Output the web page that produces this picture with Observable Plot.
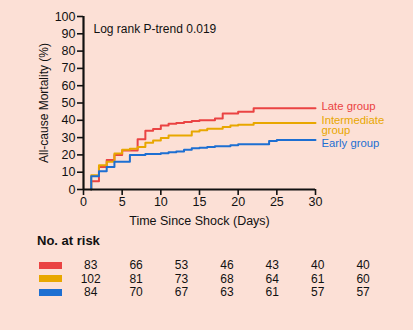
<!DOCTYPE html>
<html><head><meta charset="utf-8">
<script src="https://cdn.jsdelivr.net/npm/d3@7"></script>
<script src="https://cdn.jsdelivr.net/npm/@observablehq/plot@0.6"></script>
<style>
html,body{margin:0;padding:0;background:#fce0d6;}
#wrap{position:relative;width:413px;height:330px;overflow:hidden;font-family:"Liberation Sans",Arial,sans-serif;color:#111;background:#fce0d6;}
#chart{position:absolute;left:0;top:0;}
.abs{position:absolute;white-space:nowrap;}
</style></head>
<body><div id="wrap"><div id="chart"></div><div id="risk"></div></div>
<script>
// ---- data ----
const groups = ["Late group", "Intermediate group", "Early group"];
const groupLabels = ["Late group", "Intermediate\ngroup", "Early group"];
const groupColors = ["#ea4343", "#e8a700", "#1d6fd2"];

const lateDays =      [1, 1,   2,  3,  4,  5,    7,  8,  9, 10, 11, 12,   13, 14,   15, 17, 18, 20, 22, 30];
const lateMort =      [0, 4.8, 13, 17, 20, 22.5, 29, 34, 35, 37, 38, 38.5, 39, 39.6, 40, 41, 44, 45, 47, 47];

const interDays =     [1, 1,   2,  3,  4,    5,  6,    7,    8,  9,    10,   11,   14,   15,   16,   18,   19, 20,   22,   30];
const interMort =     [0, 8.3, 14, 16, 20.8, 23, 23.5, 24.5, 27, 28.3, 29.8, 31.2, 33.5, 34.3, 35.1, 36.1, 37, 37.5, 38.4, 38.4];

const earlyDays =     [1, 1,   2,    3,  4,  6,  8,    10, 11,   12, 13, 14,   15,   16,   17, 19,   20,   24, 25,   30];
const earlyMort =     [0, 7.7, 10.5, 13, 16, 20, 20.5, 21, 21.5, 22, 23, 23.8, 24.2, 24.6, 25, 25.6, 26.2, 28, 28.6, 28.6];

const xTicks = [0, 5, 10, 15, 20, 25, 30];
const yTicks = [0, 10, 20, 30, 40, 50, 60, 70, 80, 90, 100];

const atRiskLate = [83, 66, 53, 46, 43, 40, 40];
const atRiskIntermediate = [102, 81, 73, 68, 64, 61, 60];
const atRiskEarly = [84, 70, 67, 63, 61, 57, 57];

const pTrendText = "Log rank P-trend 0.019";
const xLabel = "Time Since Shock (Days)";
const yLabel = "All-cause Mortality (%)";
const riskTitle = "No. at risk";

// ---- build table ----
const seriesDays = [lateDays, interDays, earlyDays];
const seriesMort = [lateMort, interMort, earlyMort];
const rows = [];
groups.forEach((g, gi) => {
  seriesDays[gi].forEach((d, i) => rows.push({group: g, day: d, mort: seriesMort[gi][i]}));
});
const finals = groups.map((g, gi) => ({group: g, label: groupLabels[gi], day: seriesDays[gi][seriesDays[gi].length - 1], mort: seriesMort[gi][seriesMort[gi].length - 1]}));
const labelDy = [-1.6, 2.5, 3.3];

const colorScale = {domain: groups, range: groupColors};

const chart = Plot.plot({
  width: 413,
  height: 232,
  marginLeft: 83,
  marginRight: 98,
  marginTop: 16,
  marginBottom: 43,
  style: {background: "transparent", fontFamily: "'Liberation Sans', Arial, sans-serif", fontSize: "12.5px", color: "#111"},
  x: {domain: [0, 30]},
  y: {domain: [0, 100]},
  color: colorScale,
  marks: [
    Plot.line(rows, {x: "day", y: "mort", z: "group", stroke: "group", curve: "step-after", strokeWidth: 2}),
    ...finals.map((f, i) => Plot.text([f], {x: "day", y: "mort", text: "label", fill: groupColors[i], dx: 6, dy: labelDy[i], textAnchor: "start", lineAnchor: "middle", fontSize: 11.3, lineHeight: 0.93})),
    Plot.ruleX([0], {y1: 0, y2: 100, strokeWidth: 2.2, stroke: "#111"}),
    Plot.ruleY([0], {x1: 0, x2: 30, strokeWidth: 2.2, stroke: "#111"}),
    Plot.axisY({ticks: yTicks, tickSize: 6, tickPadding: 2, strokeWidth: 1.6, label: null, fontSize: 12.5}),
    Plot.axisX({ticks: xTicks, tickSize: 6, tickPadding: 2, strokeWidth: 1.6, label: null, fontSize: 12.5}),
    Plot.text([xLabel], {frameAnchor: "bottom", dy: 31, lineAnchor: "middle", fontSize: 12.5, fill: "#111"}),
    Plot.text([yLabel], {frameAnchor: "left", textAnchor: "middle", lineAnchor: "middle", rotate: -90, dx: -39, fontSize: 12, fill: "#111"}),
    Plot.text([pTrendText], {frameAnchor: "top-left", dx: 10, dy: 12.5, textAnchor: "start", lineAnchor: "middle", fontSize: 12, fill: "#111"})
  ]
});
document.getElementById("chart").appendChild(chart);

// ---- at-risk table ----
const risk = document.getElementById("risk");
const title = document.createElement("div");
title.className = "abs";
title.textContent = riskTitle;
Object.assign(title.style, {left: "37px", top: "233px", fontWeight: "bold", fontSize: "13px", lineHeight: "16px"});
risk.appendChild(title);

const atRisk = [atRiskLate, atRiskIntermediate, atRiskEarly];
const rowY = [265, 278.6, 292];
atRisk.forEach((vals, ri) => {
  const sw = document.createElement("div");
  sw.className = "abs";
  Object.assign(sw.style, {left: "39px", top: (rowY[ri] - 3.5) + "px", width: "23px", height: "7px", background: groupColors[ri]});
  risk.appendChild(sw);
  vals.forEach((v, ci) => {
    const s = document.createElement("div");
    s.className = "abs";
    s.textContent = v;
    Object.assign(s.style, {left: (90.7 + 45.4 * ci) + "px", top: (rowY[ri] - 7) + "px", transform: "translateX(-50%)", fontSize: "12px", lineHeight: "14px"});
    risk.appendChild(s);
  });
});
</script>
</body></html>
